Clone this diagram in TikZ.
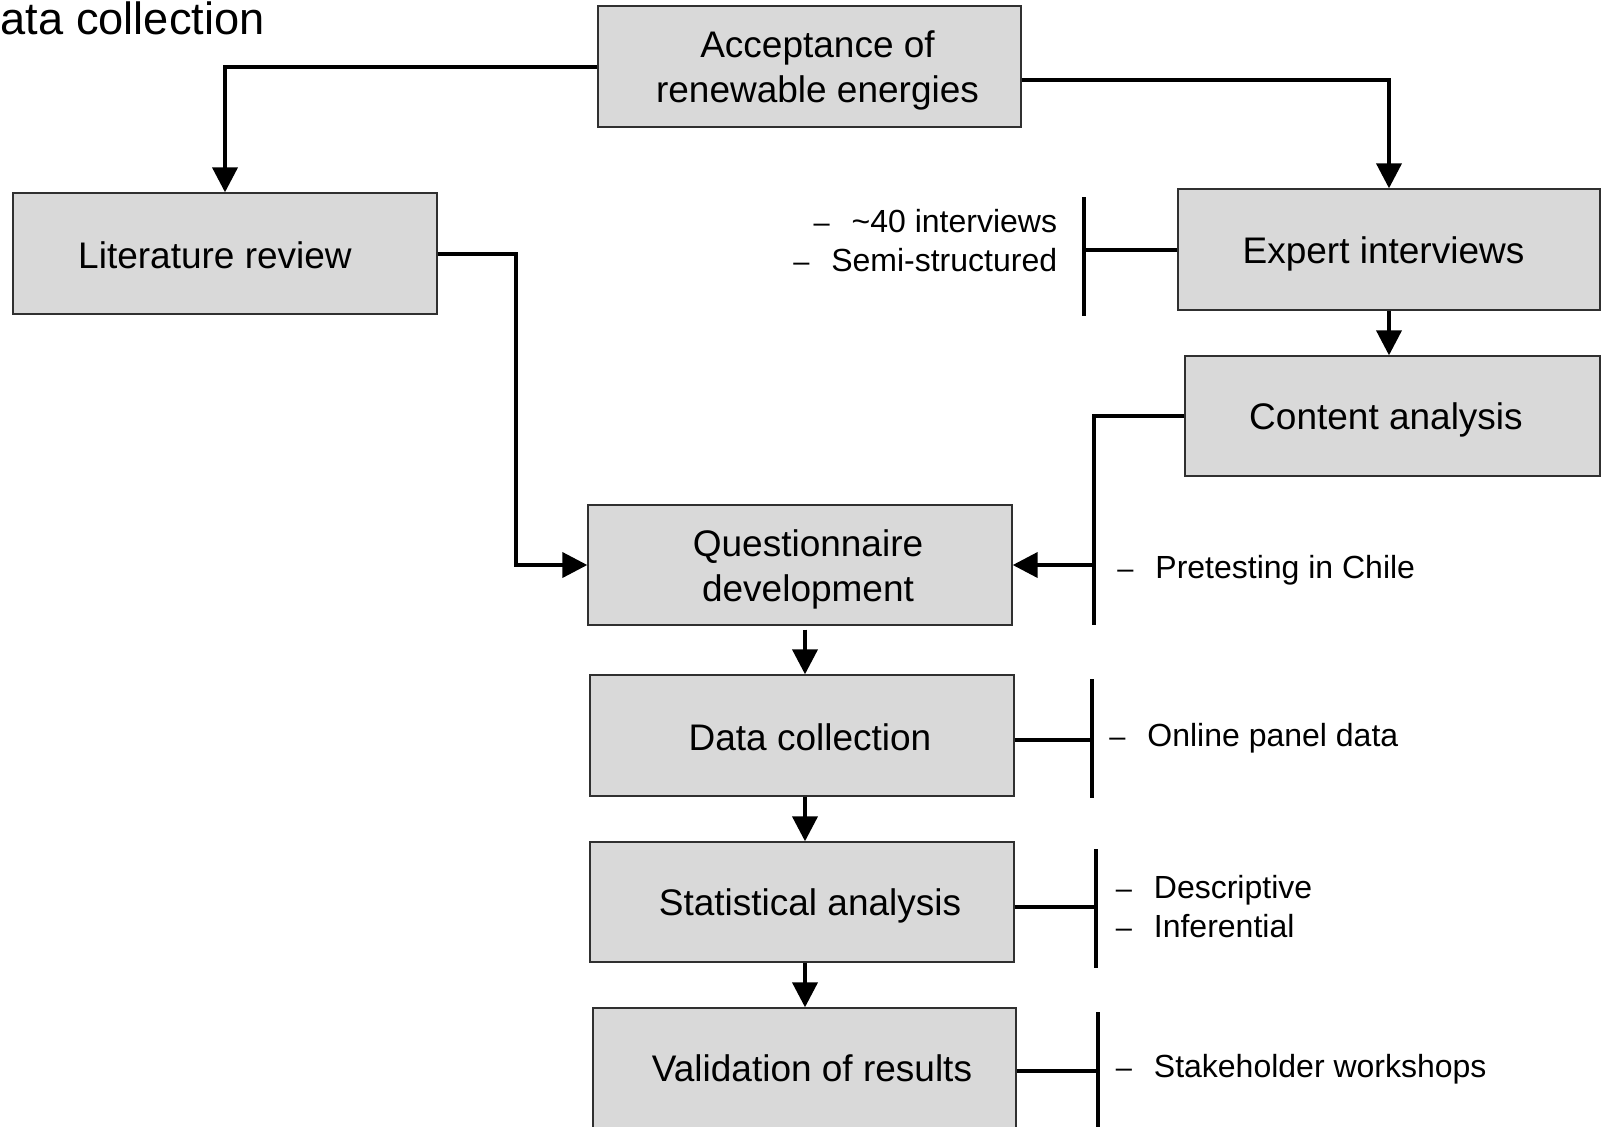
\documentclass[tikz,border=0pt]{standalone}
\usepackage{fontspec}
\setmainfont{Liberation Sans}
\usetikzlibrary{arrows.meta,calc}
\definecolor{boxgray}{HTML}{D9D9D9}
\definecolor{boxline}{HTML}{303030}
\newcommand\dsh{\makebox[19pt][l]{\fontsize{14.5}{14.5}\selectfont\textendash}}
\begin{document}
\begin{tikzpicture}[x=0.5pt,y=-0.5pt,
  box/.style={draw=boxline, line width=0.7pt, fill=boxgray, inner sep=0pt},
  boxtext/.style={inner sep=0pt, align=center, font=\fontsize{18.5}{22.5}\selectfont},
  conn/.style={line width=2pt, line join=miter},
  arr/.style={conn, -{Triangle[length=12.5pt,width=12.5pt]}},
  note/.style={inner sep=0pt, font=\fontsize{16}{19.5}\selectfont},
]
\useasboundingbox (0,0) rectangle (1602,1126);

% title (partly cut off)
\node[anchor=base east, inner sep=0pt, font=\fontsize{22.6}{26}\selectfont] (title) at (265,34) {Data collection};

% boxes
\node[box, minimum width=211.5pt, minimum height=60.5pt] (acc) at (809.5,66.5) {};
\node[box, minimum width=212pt, minimum height=60.5pt] (lit) at (225,253.5) {};
\node[box, minimum width=211pt, minimum height=60.5pt] (exp) at (1389,249.5) {};
\node[box, minimum width=207.5pt, minimum height=60pt] (con) at (1392.5,416) {};
\node[box, minimum width=212pt, minimum height=60pt] (que) at (800,565) {};
\node[box, minimum width=212pt, minimum height=60.5pt] (dat) at (802,735.5) {};
\node[box, minimum width=212pt, minimum height=60pt] (sta) at (802,902) {};
\node[box, minimum width=211.5pt, minimum height=60pt] (val) at (804.5,1068) {};

% box texts
\node[boxtext] (acct) at ($(acc)+(8,4)$) {Acceptance of\\renewable energies};
\node[boxtext] (litt) at ($(lit)+(-10,2)$) {Literature review};
\node[boxtext] (expt) at ($(exp)+(-5.5,4)$) {Expert interviews};
\node[boxtext] (cont) at ($(con)+(-6.5,4)$) {Content analysis};
\node[boxtext] (quet) at ($(que)+(8,4)$) {Questionnaire\\development};
\node[boxtext] (datt) at ($(dat)+(8,2)$) {Data collection};
\node[boxtext] (stat) at ($(sta)+(8,4)$) {Statistical analysis};
\node[boxtext] (valt) at ($(val)+(7.5,0)$) {Validation of results};

% main connectors
\draw[arr] (acc.west) -| (lit.north);
\coordinate (accr) at ($(acc.east)+(0,13)$);
\draw[arr] (accr) -| (exp.north);
\coordinate (litr) at ($(lit.east)+(78,0)$);
\draw[arr] (lit.east) -- (litr) |- (que.west);
\draw[arr] (exp.south) -- (exp.south |- con.north);
\draw[arr, shorten <=2pt] (que.south -| 805,0) -- (dat.north -| 805,0);
\draw[arr] (dat.south -| 805,0) -- (sta.north -| 805,0);
\draw[arr] (sta.south -| 805,0) -- (val.north -| 805,0);

% bracket: expert interviews
\coordinate (eb1) at (1084,197);
\coordinate (eb2) at (1084,316);
\draw[conn] (eb1) -- (eb2);
\draw[conn] (exp.west) -- (exp.west -| eb1);
\node[note, anchor=east, align=right] (exptxt) at (1057.5,241)
  {\dsh\textasciitilde40 interviews\\\dsh Semi-structured};

% bracket: content analysis / pretesting
\coordinate (cb1) at (1094,416);
\coordinate (cb2) at (1094,625);
\draw[conn] (con.west) -- (cb1) -- (cb2);
\draw[arr] (cb1 |- que.east) -- (que.east);
\node[note, anchor=west] (pretxt) at (1117,570) {\dsh Pretesting in Chile};

% bracket: data collection
\coordinate (db1) at (1092,679);
\coordinate (db2) at (1092,798);
\coordinate (dl) at ($(dat.east)+(0,4)$);
\draw[conn] (db1) -- (db2);
\draw[conn] (dl) -- (dl -| db1);
\node[note, anchor=west] (dattxt) at (1109,738) {\dsh Online panel data};

% bracket: statistical analysis
\coordinate (sb1) at (1096,849);
\coordinate (sb2) at (1096,968);
\coordinate (sl) at ($(sta.east)+(0,5)$);
\draw[conn] (sb1) -- (sb2);
\draw[conn] (sl) -- (sl -| sb1);
\node[note, anchor=west, align=left] (statxt) at (1115.5,906.5) {\dsh Descriptive\\\dsh Inferential};

% bracket: validation
\coordinate (vb1) at (1098,1012);
\coordinate (vb2) at (1098,1140);
\coordinate (vl) at ($(val.east)+(0,3)$);
\draw[conn] (vb1) -- (vb2);
\draw[conn] (vl) -- (vl -| vb1);
\node[note, anchor=west] (valtxt) at (1115.5,1069) {\dsh Stakeholder workshops};
\end{tikzpicture}
\end{document}
